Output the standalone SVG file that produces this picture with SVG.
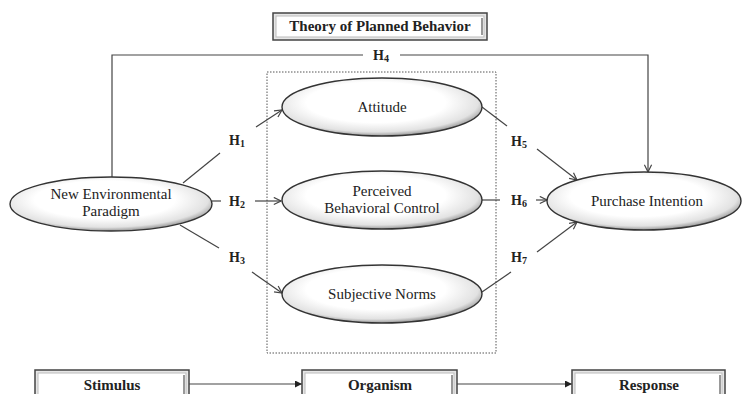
<svg xmlns="http://www.w3.org/2000/svg" width="742" height="394" viewBox="0 0 742 394">
  <style>
    text { font-family: "Liberation Serif", "DejaVu Serif", "Times New Roman", serif; }
    .lbl { font-size: 15px; fill: #222; text-anchor: middle; }
    .h { font-size: 14px; font-weight: bold; fill: #222; text-anchor: middle; }
    .sub { font-size: 10px; }
    .box-t { font-size: 15px; font-weight: bold; fill: #222; text-anchor: middle; }
    .node { fill: url(#shade); stroke: #333; stroke-width: 1.4; }
    .edge { fill: none; stroke: #444; stroke-width: 1.2; }
    .frame-o { fill: #e6e6e6; stroke: #444; stroke-width: 1.5; }
    .frame-i { fill: #fff; stroke: #bbb; stroke-width: 1; }
    .frame-r { stroke: #999; stroke-width: 2; }
  </style>
  <defs>
    <radialGradient id="shade" cx="0.47" cy="0.42" r="0.58">
      <stop offset="0.6" stop-color="#ffffff"/>
      <stop offset="0.88" stop-color="#e2e2e2"/>
      <stop offset="1" stop-color="#9a9a9a"/>
    </radialGradient>
    <marker id="open" viewBox="0 0 10 10" refX="9" refY="5" markerWidth="9" markerHeight="9" markerUnits="userSpaceOnUse" orient="auto">
      <path d="M1,1 L9,5 L1,9" fill="none" stroke="#444" stroke-width="1.3"/>
    </marker>
    <marker id="solid" viewBox="0 0 10 10" refX="10" refY="5" markerWidth="7" markerHeight="7" markerUnits="userSpaceOnUse" orient="auto">
      <path d="M0,0 L10,5 L0,10 Z" fill="#222"/>
    </marker>
  </defs>

  <rect width="742" height="394" fill="#fff"/>

  <!-- heading frame -->
  <g id="title">
    <rect class="frame-o" x="273" y="13" width="214" height="27"/>
    <rect class="frame-i" x="276" y="16" width="208" height="21"/>
    <line class="frame-r" x1="482" y1="18" x2="482" y2="35"/>
    <text class="box-t" x="380" y="31">Theory of Planned Behavior</text>
  </g>

  <!-- dotted enclosure of TPB constructs -->
  <rect x="267" y="72" width="229" height="281" fill="none" stroke="#555" stroke-width="1" stroke-dasharray="1.5 1.5"/>

  <g id="connectors">
    <!-- H4 -->
    <path class="edge" d="M112,177 V55 H363"/>
    <path class="edge" d="M400,55 H648 V172" marker-end="url(#open)"/>
    <!-- H1 -->
    <line class="edge" x1="183" y1="183" x2="220" y2="153"/>
    <line class="edge" x1="256" y1="127" x2="282" y2="110" marker-end="url(#open)"/>
    <!-- H2 -->
    <line class="edge" x1="212" y1="201" x2="221" y2="201"/>
    <line class="edge" x1="255" y1="201" x2="281" y2="201" marker-end="url(#open)"/>
    <!-- H3 -->
    <line class="edge" x1="180" y1="225" x2="219" y2="248"/>
    <line class="edge" x1="252" y1="272" x2="282" y2="293" marker-end="url(#open)"/>
    <!-- H5 -->
    <line class="edge" x1="482" y1="107" x2="507" y2="126"/>
    <line class="edge" x1="537" y1="149" x2="577" y2="180" marker-end="url(#open)"/>
    <!-- H6 -->
    <line class="edge" x1="482" y1="200" x2="500" y2="200"/>
    <line class="edge" x1="536" y1="200" x2="547" y2="200" marker-end="url(#open)"/>
    <!-- H7 -->
    <line class="edge" x1="482" y1="292" x2="511" y2="272"/>
    <line class="edge" x1="537" y1="252" x2="577" y2="222" marker-end="url(#open)"/>
    <!-- S-O-R -->
    <line class="edge" x1="189" y1="384" x2="302" y2="384" marker-end="url(#solid)"/>
    <line class="edge" x1="457" y1="384" x2="572" y2="384" marker-end="url(#solid)"/>
  </g>

  <!-- hypothesis labels -->
  <g id="hyp-labels">
    <text class="h" x="381" y="60">H<tspan class="sub" dy="2">4</tspan></text>
    <text class="h" x="237" y="145">H<tspan class="sub" dy="2">1</tspan></text>
    <text class="h" x="237" y="206">H<tspan class="sub" dy="2">2</tspan></text>
    <text class="h" x="237" y="262">H<tspan class="sub" dy="2">3</tspan></text>
    <text class="h" x="519" y="146">H<tspan class="sub" dy="2">5</tspan></text>
    <text class="h" x="519" y="205">H<tspan class="sub" dy="2">6</tspan></text>
    <text class="h" x="519" y="262">H<tspan class="sub" dy="2">7</tspan></text>
  </g>

  <g id="nep">
    <ellipse class="node" cx="111" cy="204" rx="101" ry="27"/>
    <text class="lbl" x="111" y="199">New Environmental</text>
    <text class="lbl" x="111" y="216">Paradigm</text>
  </g>
  <g id="attitude">
    <ellipse class="node" cx="382" cy="107" rx="100" ry="29"/>
    <text class="lbl" x="382" y="112">Attitude</text>
  </g>
  <g id="pbc">
    <ellipse class="node" cx="382" cy="200" rx="100" ry="29"/>
    <text class="lbl" x="382" y="196">Perceived</text>
    <text class="lbl" x="382" y="213">Behavioral Control</text>
  </g>
  <g id="sn">
    <ellipse class="node" cx="382" cy="294" rx="100" ry="29"/>
    <text class="lbl" x="382" y="299">Subjective Norms</text>
  </g>
  <g id="pi">
    <ellipse class="node" cx="644" cy="201" rx="97" ry="29"/>
    <text class="lbl" x="647" y="206">Purchase Intention</text>
  </g>

  <!-- stimulus / organism / response frames -->
  <g id="stimulus">
    <rect class="frame-o" x="35" y="370" width="154" height="30"/>
    <rect class="frame-i" x="38" y="373" width="148" height="27"/>
    <line class="frame-r" x1="184" y1="375" x2="184" y2="394"/>
    <text class="box-t" x="112" y="390">Stimulus</text>
  </g>
  <g id="organism">
    <rect class="frame-o" x="302" y="370" width="155" height="30"/>
    <rect class="frame-i" x="305" y="373" width="149" height="27"/>
    <line class="frame-r" x1="452" y1="375" x2="452" y2="394"/>
    <text class="box-t" x="380" y="390">Organism</text>
  </g>
  <g id="response">
    <rect class="frame-o" x="572" y="370" width="153" height="30"/>
    <rect class="frame-i" x="575" y="373" width="147" height="27"/>
    <line class="frame-r" x1="720" y1="375" x2="720" y2="394"/>
    <text class="box-t" x="649" y="390">Response</text>
  </g>
</svg>
